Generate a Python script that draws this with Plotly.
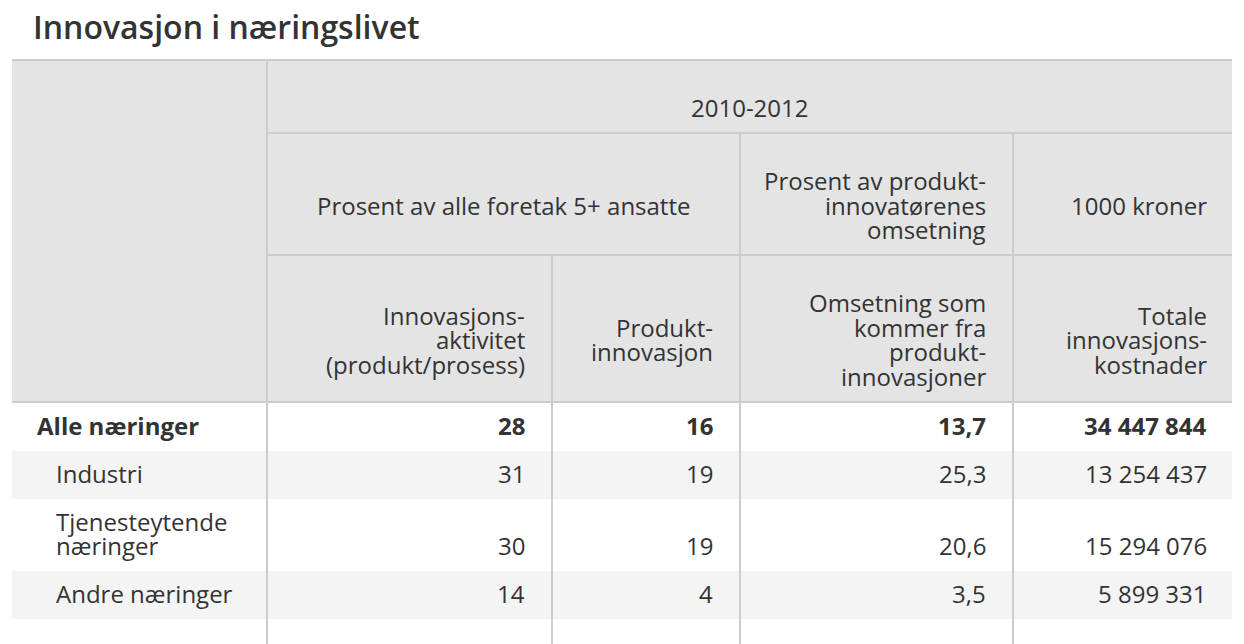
import plotly.graph_objects as go

# ---------------- data ----------------
title_text = "Innovasjon i næringslivet"
period = "2010-2012"
unit_groups = ["Prosent av alle foretak 5+ ansatte",
               "Prosent av produkt-|innovatørenes|omsetning",
               "1000 kroner"]
column_labels = ["Innovasjons-|aktivitet|(produkt/prosess)",
                 "Produkt-|innovasjon",
                 "Omsetning som|kommer fra|produkt-|innovasjoner",
                 "Totale|innovasjons-|kostnader"]
categories = ["Alle næringer", "Industri", "Tjenesteytende|næringer", "Andre næringer"]
innovasjonsaktivitet = [28, 31, 30, 14]
produktinnovasjon = [16, 19, 19, 4]
omsetning_produktinnovasjoner = [13.7, 25.3, 20.6, 3.5]
innovasjonskostnader = [34447844, 13254437, 15294076, 5899331]
value_decimals = [0, 0, 1, 0]

# ---------------- layout constants ----------------
W, H = 1244, 644
PAGE_MARGIN = 8          # default body margin of the html page
FONT = "Open Sans"
FS = 24
LH = 24.5
TXT = "#333333"
HEAD_BG = "#e4e4e4"
STRIPE = "#f4f4f4"
LINE = "#cccccc"
LW = 2

x_left, x_right = 12, 1232
col_edges = [267, 552, 740, 1013, 1232]      # right edges of stub + data columns
col_pad = [26, 26, 26.5, 24.5]               # right padding inside each data column
hdr_top, hdr_r1, hdr_r2, hdr_bot = 60, 133, 255, 402
row_edges = [402, 451, 499, 571, 619]
BASE_OFF = 15.7          # baseline distance above cell bottom
ASC_CENTER = 0.388       # (ascent - descent)/2 in em for Open Sans


def fmt(v, d):
    s = f"{v:,.{d}f}"
    return s.replace(",", " ").replace(".", ",")


fig = go.Figure()
shapes = []
ann = []


def rect(x0, y0, x1, y1, color):
    shapes.append(dict(type="rect", xref="x", yref="y", x0=x0, y0=y0, x1=x1, y1=y1,
                       fillcolor=color, line=dict(width=0), layer="below"))


def line(x0, y0, x1, y1):
    shapes.append(dict(type="line", xref="x", yref="y", x0=x0, y0=y0, x1=x1, y1=y1,
                       line=dict(color=LINE, width=LW), layer="above"))


def text(x, baseline, s, anchor="right", bold=False, size=FS, weight=None):
    w = weight if weight is not None else (700 if bold else 400)
    ann.append(dict(xref="x", yref="y", x=x, y=baseline - ASC_CENTER * size, text=s,
                    showarrow=False, xanchor=anchor, yanchor="middle", borderpad=0,
                    font=dict(family=FONT, size=size, color=TXT, weight=w)))


def block(x, mid_baseline, label, anchor="right"):
    lines = label.split("|")
    n = len(lines)
    for i, ln in enumerate(lines):
        text(x, mid_baseline + (i - (n - 1) / 2) * LH, ln, anchor)


def right_x(j):
    return col_edges[j + 1] - col_pad[j]


# backgrounds
rect(x_left, hdr_top, x_right, hdr_bot, HEAD_BG)
for i in range(len(categories)):
    if i % 2 == 1:
        rect(x_left, row_edges[i], x_right, row_edges[i + 1], STRIPE)

# grid lines
line(x_left, hdr_top, x_right, hdr_top)
line(col_edges[0], hdr_r1, x_right, hdr_r1)
line(col_edges[0], hdr_r2, x_right, hdr_r2)
line(x_left, hdr_bot, x_right, hdr_bot)
line(col_edges[0], hdr_top, col_edges[0], H)
line(col_edges[1], hdr_r2, col_edges[1], H)
line(col_edges[2], hdr_r1, col_edges[2], H)
line(col_edges[3], hdr_r1, col_edges[3], H)

# title
text(31.5, 39, title_text, anchor="left", size=32, weight=600)

# header texts
text((col_edges[0] + x_right) / 2, hdr_r1 - 16, period, anchor="center")
mid2 = 214.5
text((col_edges[0] + col_edges[2]) / 2, mid2, unit_groups[0], anchor="center")
block(right_x(2), mid2, unit_groups[1])
block(right_x(3), mid2, unit_groups[2])
mid3 = 349
for j, lab in enumerate(column_labels):
    block(right_x(j), mid3, lab)

# body
series = [innovasjonsaktivitet, produktinnovasjon, omsetning_produktinnovasjoner, innovasjonskostnader]
for i, cat in enumerate(categories):
    base = row_edges[i + 1] - BASE_OFF
    bold = i == 0
    lines = cat.split("|")
    n = len(lines)
    for k, ln in enumerate(lines):
        text(36 if i == 0 else 55, base - (n - 1 - k) * LH, ln, anchor="left", bold=bold)
    for j, ser in enumerate(series):
        text(right_x(j), base, fmt(ser[i], value_decimals[j]), bold=bold)

fig.update_layout(
    width=W - PAGE_MARGIN, height=H - PAGE_MARGIN, margin=dict(l=0, r=0, t=0, b=0),
    paper_bgcolor="white", plot_bgcolor="white", showlegend=False,
    xaxis=dict(range=[PAGE_MARGIN, W], visible=False, fixedrange=True),
    yaxis=dict(range=[H, PAGE_MARGIN], visible=False, fixedrange=True),
    shapes=shapes, annotations=ann,
)
fig.write_html("out.html", config={"displayModeBar": False})
